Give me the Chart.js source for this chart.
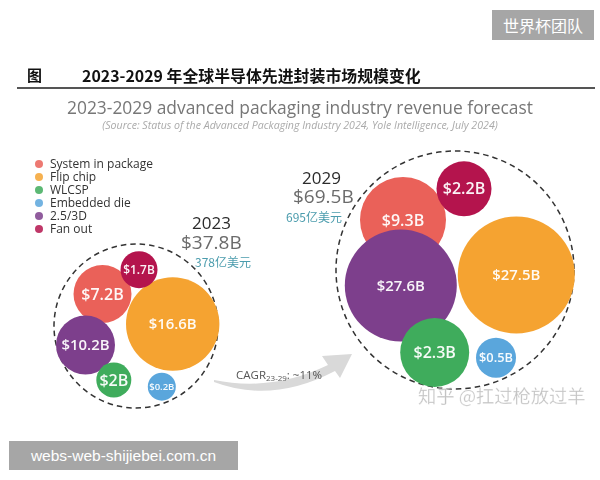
<!DOCTYPE html>
<html>
<head>
<meta charset="utf-8">
<script src="https://cdn.jsdelivr.net/npm/chart.js@4/dist/chart.umd.min.js"></script>
<style>
  html, body { margin:0; padding:0; background:#fff; }
  #wrap { position:relative; width:600px; height:480px; overflow:hidden; font-family:"Open Sans", "Noto Sans", sans-serif; }
  #c { position:absolute; left:0; top:0; }
  .abs { position:absolute; white-space:nowrap; }
  #tagTop { left:492px; top:10px; width:102px; height:30px; background:#a6a6a6; color:#fff; font-family:"Noto Sans CJK SC"; font-size:16px; line-height:30px; text-align:center; }
  #tagBot { left:9px; top:441px; width:229px; height:29px; background:#a6a6a6; color:#fff; font-family:"Liberation Sans", Arial, sans-serif; font-size:15.5px; line-height:29px; text-align:center; }
  #fig { left:27px; top:64px; font-family:"Noto Sans CJK SC"; font-weight:700; font-size:15px; color:#111; }
  #cnTitle { left:82px; top:64px; font-family:"Noto Sans CJK SC"; font-weight:700; font-size:15.9px; color:#111; }
  #rule { left:17px; top:87px; width:578px; height:2px; background:#555; }
  #enTitle { left:0; width:600px; top:95px; text-align:center; font-family:"Open Sans"; font-size:17.4px; color:#777; }
  #src { left:0; width:600px; top:118px; text-align:center; font-family:"Open Sans"; font-style:italic; font-size:10.6px; color:#aaa; }
  #legend { left:34px; top:157px; font-family:"Open Sans"; font-size:12px; color:#333; line-height:13px; }
  #legend .row { position:relative; height:13px; padding-left:16px; }
  #legend .dot { position:absolute; left:1px; top:3px; width:8px; height:8px; border-radius:50%; }
  .year { font-family:"Open Sans"; font-size:17px; color:#2b2b2b; }
  .total { font-family:"Open Sans"; font-size:19px; color:#6b6b6b; }
  .cn { font-family:"Noto Sans CJK SC"; font-size:12px; color:#4b9cad; }
  #cagr { left:236px; top:367px; font-family:"Open Sans"; font-size:11.5px; color:#555; }
  #cagr sub { font-size:8px; vertical-align:-2px; }
  #zhihu { left:418px; top:382px; font-family:"Noto Sans CJK SC"; font-size:18.3px; color:rgba(175,175,175,0.75); -webkit-text-stroke:0.4px rgba(255,255,255,0.6); }
</style>
</head>
<body>
<div id="wrap">
  <canvas id="c" width="600" height="480"></canvas>
  <svg class="abs" style="left:0;top:0" width="600" height="480">
    <path d="M 214 380 Q 272 392 328 365 L 322 356 L 352 354 L 340 378 L 335 371 Q 272 404 214 382 Z" fill="#d9d9d9"/>
  </svg>
  <div id="tagTop" class="abs">世界杯团队</div>
  <div id="fig" class="abs">图</div>
  <div id="cnTitle" class="abs"></div>
  <div id="rule" class="abs"></div>
  <div id="enTitle" class="abs"></div>
  <div id="src" class="abs"></div>
  <div id="legend" class="abs"></div>
  <div id="y0" class="abs year" style="left:192px;top:211px"></div>
  <div id="t0" class="abs total" style="left:181px;top:229px"></div>
  <div id="c0" class="abs cn" style="left:195px;top:253px"></div>
  <div id="y1" class="abs year" style="left:302px;top:166px"></div>
  <div id="t1" class="abs total" style="left:293px;top:183px"></div>
  <div id="c1" class="abs cn" style="left:286px;top:208px"></div>
  <div id="cagr" class="abs">CAGR<sub>23-29</sub>: ~11%</div>
  <div id="zhihu" class="abs">知乎 @扛过枪放过羊</div>
  <div id="tagBot" class="abs">webs-web-shijiebei.com.cn</div>
</div>
<script>
// ---- chart content ----
const cnTitle = '2023-2029 年全球半导体先进封装市场规模变化';
const enTitle = '2023-2029 advanced packaging industry revenue forecast';
const sourceNote = '(Source: Status of the Advanced Packaging Industry 2024, Yole Intelligence, July 2024)';
const categories = ['System in package', 'Flip chip', 'WLCSP', 'Embedded die', '2.5/3D', 'Fan out'];
const colors = ['#ea6159', '#f5a331', '#3fac5c', '#5aa6dc', '#7d3f8c', '#b4144d'];
const years = ['2023', '2029'];
const revenue2023 = [7.2, 16.6, 2, 0.2, 10.2, 1.7];   // $B
const revenue2029 = [9.3, 27.5, 2.3, 0.5, 27.6, 2.2]; // $B
const totals = [37.8, 69.5];                          // $B
const totalsCN = ['378亿美元', '695亿美元'];

// ---- packed-bubble layout (layout units on hidden axes) ----
const pack2023X = [10.25, 17.27, 11.38, 16.18, 8.55, 13.90];
const pack2023Y = [29.40, 32.40, 38.00, 38.67, 34.50, 26.97];
const pack2023R = [2.90, 4.67, 1.75, 1.40, 2.95, 1.85];
const pack2029X = [40.30, 51.63, 43.47, 49.60, 40.08, 46.40];
const pack2029Y = [22.00, 27.50, 35.25, 35.77, 28.55, 18.88];
const pack2029R = [4.30, 5.85, 3.45, 2.00, 5.60, 2.75];
const groupX = [13.6, 45.5];
const groupY = [32.6, 27.0];
const groupR = [8.2, 11.9];
const drawOrder = [6, 5, 3, 2, 4, 1];

// ---- text ----
document.getElementById('cnTitle').textContent = cnTitle;
document.getElementById('enTitle').textContent = enTitle;
document.getElementById('src').textContent = sourceNote;
const leg = document.getElementById('legend');
categories.forEach((c, i) => {
  const row = document.createElement('div'); row.className = 'row';
  const dot = document.createElement('span'); dot.className = 'dot'; dot.style.background = colors[i]; dot.style.opacity = 0.85;
  row.appendChild(dot); row.appendChild(document.createTextNode(c)); leg.appendChild(row);
});
years.forEach((y, i) => {
  document.getElementById('y' + i).textContent = y;
  document.getElementById('t' + i).textContent = '$' + totals[i] + 'B';
  document.getElementById('c' + i).textContent = totalsCN[i];
});

// ---- chart ----
const datasets = categories.map((c, i) => ({
  label: c,
  data: [
    { x: pack2023X[i], y: pack2023Y[i], size: pack2023R[i], v: revenue2023[i], r: 1 },
    { x: pack2029X[i], y: pack2029Y[i], size: pack2029R[i], v: revenue2029[i], r: 1 }
  ],
  backgroundColor: colors[i],
  borderWidth: 0,
  order: drawOrder[i],
  hoverRadius: 0
}));
datasets.push({
  label: 'group',
  isGroup: true,
  data: years.map((y, i) => ({ x: groupX[i], y: groupY[i], size: groupR[i], r: 1 })),
  backgroundColor: 'rgba(0,0,0,0)',
  borderColor: '#333',
  borderWidth: 1.5,
  order: 99,
  hoverRadius: 0
});

const dashPlugin = {
  id: 'dash',
  beforeDatasetDraw(chart, args) {
    if (chart.data.datasets[args.index].isGroup) chart.ctx.setLineDash([5.5, 4]);
  },
  afterDatasetDraw(chart, args) {
    if (chart.data.datasets[args.index].isGroup) chart.ctx.setLineDash([]);
  }
};
const labelPlugin = {
  id: 'bubbleLabels',
  afterDatasetsDraw(chart) {
    const ctx = chart.ctx;
    ctx.save();
    ctx.textAlign = 'center';
    ctx.textBaseline = 'middle';
    ctx.fillStyle = 'rgba(255,255,255,0.95)';
    chart.data.datasets.forEach((ds, di) => {
      if (ds.isGroup) return;
      chart.getDatasetMeta(di).data.forEach((el, i) => {
        const r = el.options.radius;
        const txt = '$' + ds.data[i].v + 'B';
        ctx.font = '600 10px "Open Sans"';
        const w10 = ctx.measureText(txt).width;
        const target = Math.min(48, 1.7 * r);
        const fs = Math.max(9.5, Math.min(16, 10 * target / w10));
        ctx.font = '600 ' + fs.toFixed(1) + 'px "Open Sans"';
        ctx.fillText(txt, el.x, el.y + 1);
      });
    });
    ctx.restore();
  }
};

try {
const chart = new Chart(document.getElementById('c'), {
  type: 'bubble',
  data: { datasets },
  options: {
    responsive: false,
    animation: false,
    events: [],
    layout: { padding: 0, autoPadding: false },
    clip: false,
    scales: {
      x: { type: 'linear', min: 0, max: 60, display: false },
      y: { type: 'linear', min: 0, max: 48, reverse: true, display: false }
    },
    plugins: { legend: { display: false }, tooltip: { enabled: false } }
  },
  plugins: [dashPlugin, labelPlugin]
});
// bubble radius (pixels) from the x scale, so sizes follow the layout units
const xs = chart.scales.x;
chart.data.datasets.forEach(ds => ds.data.forEach(p => {
  p.r = Math.abs(xs.getPixelForValue(p.size) - xs.getPixelForValue(0));
}));
chart.update('none');
} catch (e) {
  document.getElementById('zhihu').textContent = 'ERR ' + e.message;
}
</script>
</body>
</html>
